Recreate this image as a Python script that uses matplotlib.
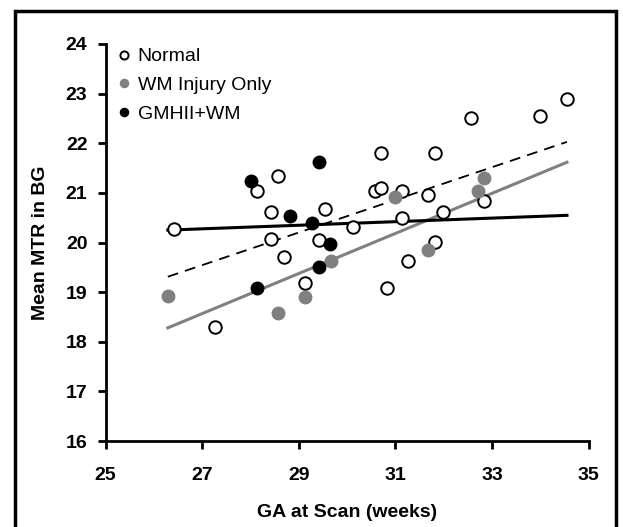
import numpy as np
import matplotlib
matplotlib.use("Agg")
import matplotlib.pyplot as plt
from matplotlib.patches import Rectangle

plt.rcParams["font.family"] = ["Liberation Sans", "DejaVu Sans"]

# GA at scan (weeks) and mean MTR in basal ganglia
normal_ga = [26.42, 27.27, 28.14, 28.42, 28.42, 28.56, 28.70, 29.13, 29.41, 29.54,
             30.13, 30.57, 30.70, 30.70, 30.83, 31.13, 31.13, 31.27, 31.68, 31.82,
             31.82, 31.99, 32.56, 32.84, 34.00, 34.55]
normal_mtr = [20.28, 18.30, 21.04, 20.62, 20.08, 21.33, 19.70, 19.18, 20.05, 20.67,
              20.32, 21.04, 21.09, 21.80, 19.09, 21.04, 20.49, 19.63, 20.95, 21.80,
              20.02, 20.62, 22.51, 20.84, 22.54, 22.90]

wm_ga = [26.29, 28.56, 29.13, 29.66, 30.99, 31.68, 32.71, 32.84]
wm_mtr = [18.93, 18.58, 18.90, 19.63, 20.92, 19.84, 21.04, 21.29]

gmh_ga = [28.01, 28.13, 28.82, 29.27, 29.41, 29.41, 29.65]
gmh_mtr = [21.23, 19.09, 20.54, 20.40, 21.63, 19.51, 19.97]

# trend lines (slope, value at 26.29 weeks)
fit_x0 = 26.29
normal_fit = (0.329, 19.31)
wm_fit = (0.404, 18.28)
gmh_fit = (0.036, 20.25)

x_ticks = [25, 27, 29, 31, 33, 35]
y_ticks = [16, 17, 18, 19, 20, 21, 22, 23, 24]

fig = plt.figure(figsize=(6.23, 5.27), dpi=100)
ax = fig.add_axes([105.5 / 623, 1 - 441 / 527, (588.7 - 105.5) / 623, (441 - 44) / 527])

all_x = np.array(normal_ga + wm_ga + gmh_ga)
xs = np.array([all_x.min(), all_x.max()])

def trend(fit):
    slope, y0 = fit
    return y0 + slope * (xs - fit_x0)

ax.plot(xs, trend(normal_fit), color="black", lw=1.3, ls=(0, (6, 4)), zorder=2)
ax.plot(xs, trend(wm_fit), color="#808080", lw=2.2, zorder=2)
ax.plot(xs, trend(gmh_fit), color="black", lw=2.2, zorder=2)

ms = 9
ax.plot(normal_ga, normal_mtr, "o", ms=ms, mfc="white", mec="black", mew=1.4,
        label="Normal", zorder=3)
ax.plot(wm_ga, wm_mtr, "o", ms=ms, mfc="#808080", mec="#808080", mew=1.0,
        label="WM Injury Only", zorder=3)
ax.plot(gmh_ga, gmh_mtr, "o", ms=ms, mfc="black", mec="black", mew=1.0,
        label="GMHII+WM", zorder=4)

ax.set_xlim(25, 35)
ax.set_ylim(16, 24)
ax.set_xticks(x_ticks)
ax.set_yticks(y_ticks)

for side in ["top", "right"]:
    ax.spines[side].set_visible(False)
for side in ["left", "bottom"]:
    ax.spines[side].set_linewidth(2)

ax.tick_params(axis="both", direction="out", length=6, width=2, labelsize=14)
ax.tick_params(axis="x", pad=13)
ax.tick_params(axis="y", pad=7)
for lab in ax.get_xticklabels() + ax.get_yticklabels():
    lab.set_fontweight("bold")

ax.set_xlabel("GA at Scan (weeks)", fontsize=14, fontweight="bold", labelpad=14)
ax.set_ylabel("Mean MTR in BG", fontsize=14, fontweight="bold", labelpad=12)

leg = ax.legend(loc="upper left", bbox_to_anchor=(0.0145, 1.01), frameon=False,
                fontsize=14, markerscale=0.65, handlelength=0.4, handletextpad=0.5,
                labelspacing=0.57, borderaxespad=0.0)

fig.patches.append(Rectangle((15 / 623, -0.01), (616 - 15) / 623, 1.01 - 11 / 527,
                             transform=fig.transFigure, fill=False, ec="black", lw=2.5))

fig.savefig("out.png", dpi=100)
